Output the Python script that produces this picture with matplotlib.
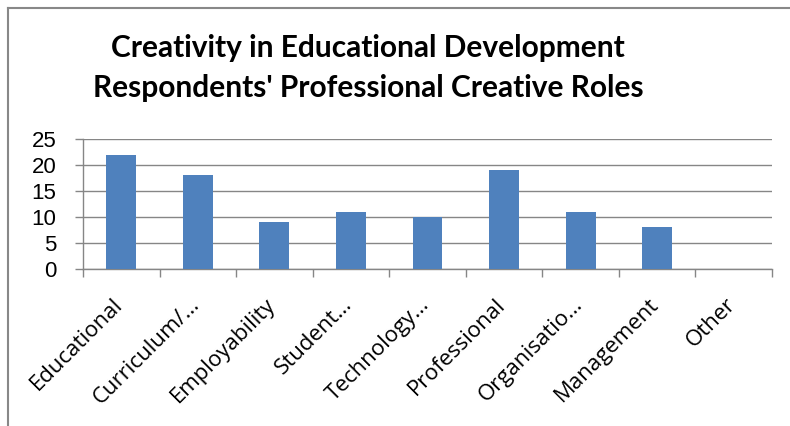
import numpy as np
import matplotlib.pyplot as plt
import matplotlib.transforms as mtransforms
from matplotlib.lines import Line2D

# survey counts per creative role
roles = ['Educational', 'Curriculum/\u2026', 'Employability', 'Student\u2026',
         'Technology\u2026', 'Professional', 'Organisatio\u2026', 'Management', 'Other']
counts = [22, 18, 9, 11, 10, 19, 11, 8, 0]
yticks = [0, 5, 10, 15, 20, 25]

barColor = '#4F81BD'
gridColor = '#868686'

W, H = 790, 426
fig = plt.figure(figsize=(W / 100, H / 100), dpi=100)
ax = fig.add_axes([83 / W, 1 - 269 / H, (772 - 83) / W, (269 - 139) / H])

x = np.arange(len(roles))
ax.bar(x, counts, width=0.39, color=barColor, zorder=3)

ax.set_xlim(-0.5, len(roles) - 0.5)
ax.set_ylim(0, 25)
ax.set_yticks(yticks)
ax.set_yticklabels([str(v) for v in yticks], fontsize=16, family='Liberation Sans')
ax.yaxis.grid(True, color=gridColor, linewidth=1, zorder=0)
ax.tick_params(axis='y', length=6, color=gridColor, width=1, pad=13)

# category ticks sit on the boundaries between bars
ax.set_xticks(np.arange(len(roles) + 1) - 0.5)
ax.set_xticklabels([])
ax.tick_params(axis='x', length=6, color=gridColor, width=1)
labelTrans = ax.get_xaxis_transform() + mtransforms.ScaledTranslation(-9 / 100, -25 / 100, fig.dpi_scale_trans)
for i, name in enumerate(roles):
    ax.text(i, 0, name, rotation=45, ha='right', va='top', rotation_mode='anchor',
            fontsize=16, family='Open Sans', transform=labelTrans)

for side in ['top', 'right']:
    ax.spines[side].set_visible(False)
for side in ['left', 'bottom']:
    ax.spines[side].set_color(gridColor)
    ax.spines[side].set_linewidth(1)

fig.text(368 / W, 1 - 57 / H, 'Creativity in Educational Development',
         ha='center', va='baseline', fontsize=21.5, fontweight='bold', family='Lato')
fig.text(368 / W, 1 - 97 / H, "Respondents' Professional Creative Roles",
         ha='center', va='baseline', fontsize=21.5, fontweight='bold', family='Lato')

# chart frame
fig.add_artist(Line2D([7.5 / W, 7.5 / W], [0, 1 - 7.5 / H], color='#888888', lw=1.5))
fig.add_artist(Line2D([7.5 / W, 1], [1 - 7.5 / H, 1 - 7.5 / H], color='#888888', lw=1.5))

fig.savefig('out.png', dpi=100)
